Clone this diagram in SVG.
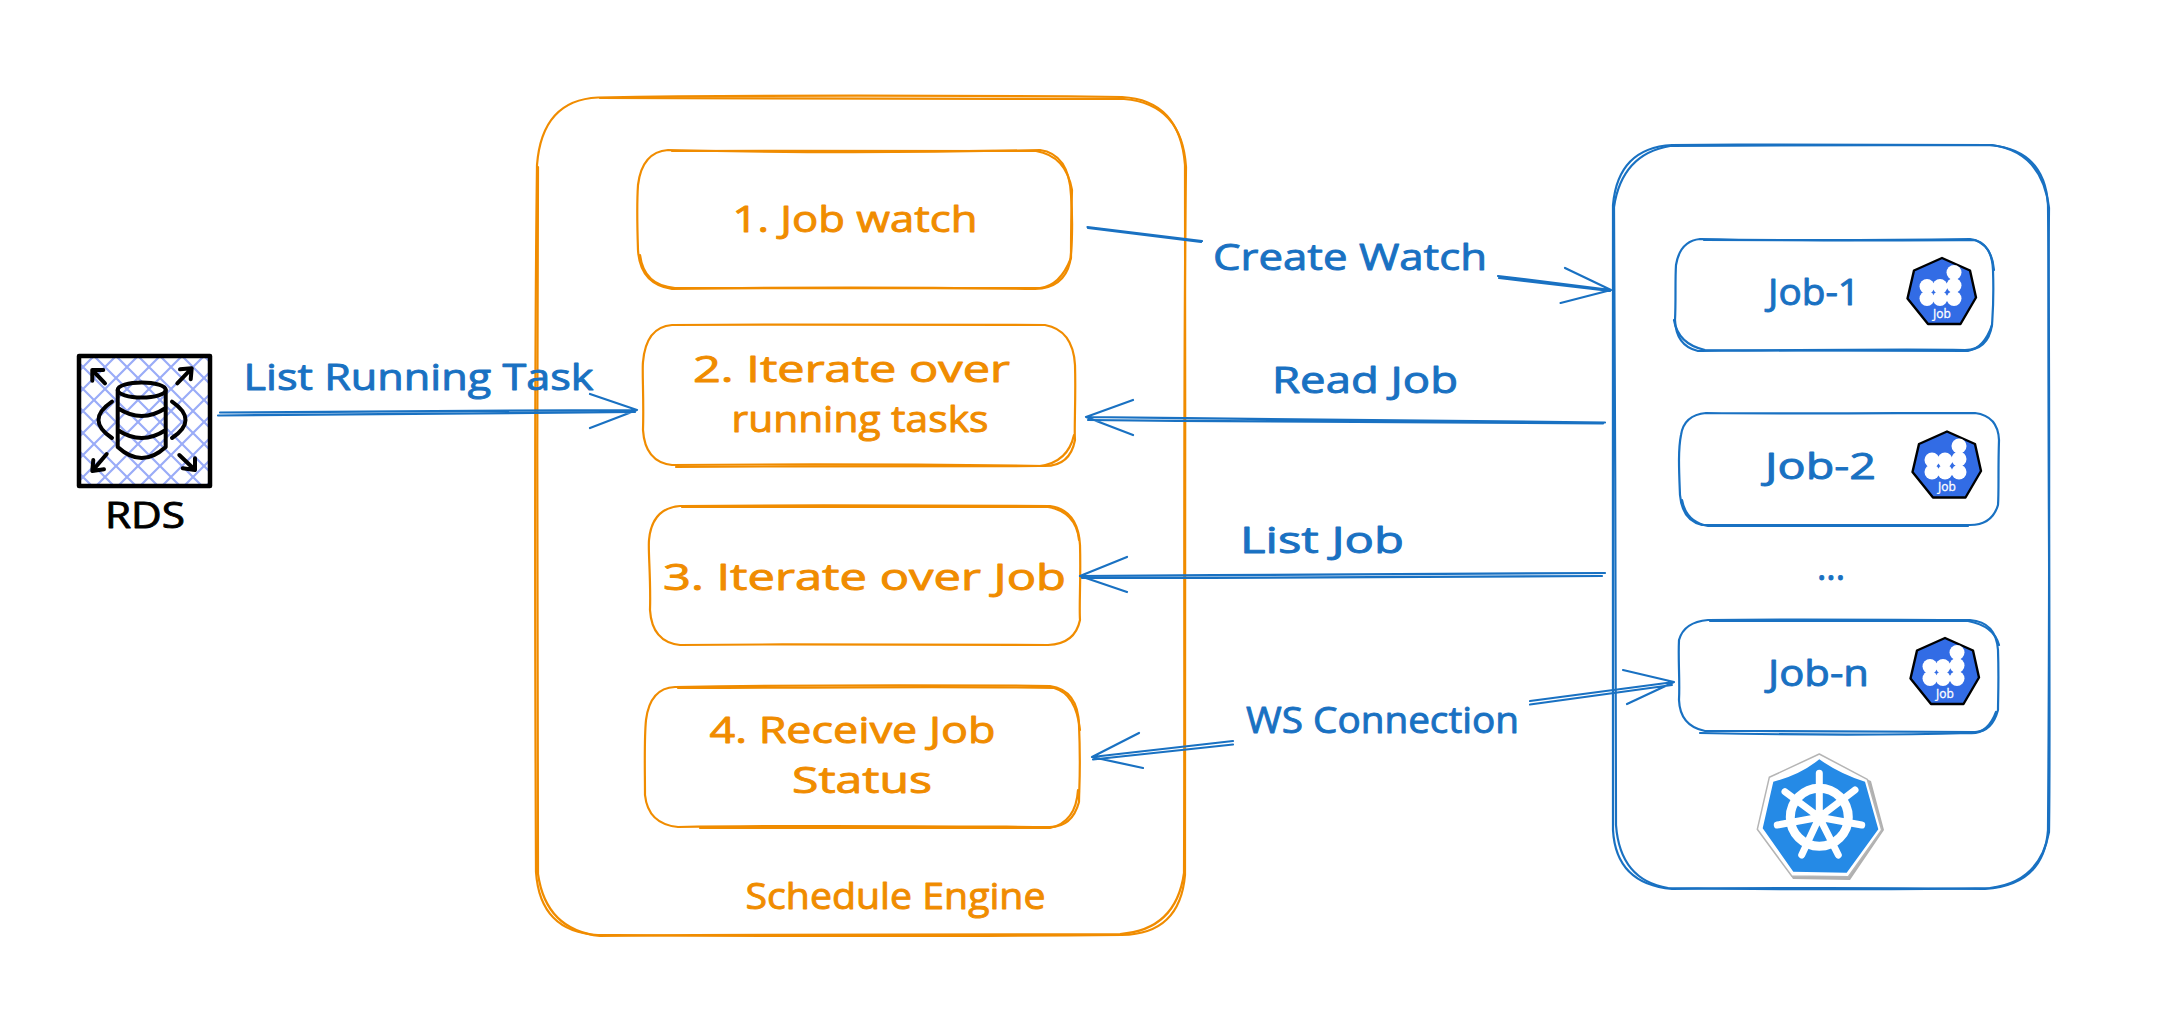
<svg xmlns="http://www.w3.org/2000/svg" width="2166" height="1030" viewBox="0 0 2166 1030">
<style>
.o{fill:none;stroke:#f08c00;stroke-width:2.2;stroke-linecap:round;stroke-linejoin:round}
.b{fill:none;stroke:#1971c2;stroke-width:2.2;stroke-linecap:round;stroke-linejoin:round}
.k{fill:none;stroke:#000;stroke-width:4;stroke-linecap:round;stroke-linejoin:round}
text{font-family:"Open Sans","Noto Sans",sans-serif;font-size:36px;stroke-width:.9px;stroke-linejoin:round}
.to{fill:#f08c00;stroke:#f08c00}
.tb{fill:#1971c2;stroke:#1971c2}
.tk{fill:#000;stroke:#000}
.hex{fill:#326ce5;stroke:#000;stroke-width:2.4;stroke-linejoin:round}
.blob{fill:#fff}
.tj{font-size:12px;fill:#fff;stroke:#fff;stroke-width:.3px;text-anchor:middle}
.sp{fill:none;stroke:#fff;stroke-width:7;stroke-linecap:round}
</style>
<defs>
<pattern id="hatch" patternUnits="userSpaceOnUse" width="22" height="22" x="6" y="4">
<path d="M0 0L22 22M22 0L0 22" stroke="#9aacf8" stroke-width="2.2" fill="none"/>
</pattern>
<g id="jobicon">
<polygon class="hex" points="0,-33.5 28,-21 34,6 18.500,32.500 -14,32.500 -34.500,7 -28,-21"/>
<g class="blob">
<circle cx="12" cy="-19" r="7.500"/><circle cx="12" cy="-6" r="7.500"/>
<circle cx="-15" cy="-5" r="7.500"/><circle cx="-2" cy="-5" r="7.500"/>
<circle cx="-15" cy="7" r="7.500"/><circle cx="-2" cy="7" r="7.500"/><circle cx="12" cy="7" r="7.500"/>
</g>
<text class="tj" x="0" y="26">Job</text>
</g>
</defs>
<rect width="2166" height="1030" fill="#fff"/>

<g id="schedule-engine">
<path class="o" d="M598 97.500C760 95 1010 96 1122 97Q1180 100 1185 165C1186 400 1184 700 1185 875Q1180 934 1122 935C900 937 760 936 598 935Q540 932 536 872C535 650 534 400 537 165Q542 100 598 97.500Z"/>
<path class="o" d="M600 98C800 100 1000 99 1124 99Q1182 104 1186 167C1183 400 1185 650 1184 873Q1176 930 1120 934C900 934 760 934 600 936Q546 930 538 874C537 650 537 400 538 167"/>
<text class="to" x="745.500" y="909" textLength="300" lengthAdjust="spacingAndGlyphs">Schedule Engine</text>
</g>
<g id="job-watch">
<path class="o" d="M668 150C800 153 950 152 1040 150Q1069 154 1071 195C1073 220 1072 250 1070 262Q1064 288 1035 289C900 287 800 287 672 289Q640 284 638 250C637 220 637 200 638 185Q642 152 668 150Z"/>
<path class="o" d="M672 151C800 151 950 150 1036 151Q1066 156 1072 190C1071 220 1071 245 1071 258Q1060 286 1040 288C900 289 800 288 675 288Q644 286 640 255"/>
<text class="to" x="732.500" y="232" textLength="245" lengthAdjust="spacingAndGlyphs">1. Job watch</text>
</g>
<g id="iterate-tasks">
<path class="o" d="M672 325C800 324 950 325 1045 325Q1073 330 1075 365C1076 400 1074 430 1075 440Q1070 466 1045 466C900 464 800 464 672 465Q645 462 643 430C644 400 642 370 643 362Q646 327 672 325Z"/>
<path class="o" d="M676 467C800 466 950 466 1040 466Q1068 462 1074 435"/>
<text class="to" x="693" y="382" textLength="317" lengthAdjust="spacingAndGlyphs">2. Iterate over</text>
<text class="to" x="731.500" y="432" textLength="257" lengthAdjust="spacingAndGlyphs">running tasks</text>
</g>
<g id="iterate-job">
<path class="o" d="M680 506C800 505 950 505 1050 506Q1078 510 1080 545C1081 580 1079 605 1080 620Q1075 644 1048 645C900 644 800 644 680 645Q652 642 650 610C651 580 648 550 649 540Q652 508 680 506Z"/>
<path class="o" d="M682 507C800 507 950 507 1048 507Q1076 512 1079 540"/>
<text class="to" x="663" y="590" textLength="403" lengthAdjust="spacingAndGlyphs">3. Iterate over Job</text>
</g>
<g id="receive-status">
<path class="o" d="M675 687C800 685 950 685 1050 686Q1078 690 1079 725C1081 770 1079 790 1079 802Q1072 828 1048 827C900 826 800 825 678 827Q648 824 645 795C645 770 644 740 646 720Q650 688 675 687Z"/>
<path class="o" d="M678 688C800 688 950 686 1054 688Q1076 694 1080 730M1078 790Q1076 822 1050 828C900 827 800 827 700 828"/>
<text class="to" x="709.500" y="743" textLength="286" lengthAdjust="spacingAndGlyphs">4. Receive Job</text>
<text class="to" x="792" y="793" textLength="140" lengthAdjust="spacingAndGlyphs">Status</text>
</g>

<g id="kubernetes-cluster">
<path class="b" d="M1672 145C1800 144 1950 144 1990 145Q2045 150 2048 205C2050 400 2049 700 2048 830Q2044 885 1985 889C1900 888 1750 888 1672 889Q1616 884 1613 830C1614 650 1612 400 1613 205Q1618 148 1672 145Z"/>
<path class="b" d="M1670 146C1800 145 1950 145 1992 145Q2042 152 2049 208C2047 400 2051 700 2049 832Q2040 882 1990 888C1900 890 1750 889 1668 888Q1620 880 1616 825C1616 650 1615 400 1614 207Q1622 154 1670 146Z"/>
<text class="tb" x="1817" y="580" textLength="28" lengthAdjust="spacingAndGlyphs">...</text>
</g>
<g id="job-1">
<path class="b" d="M1700 239C1800 241 1900 240 1970 239Q1992 242 1993 270C1994 300 1993 310 1992 325Q1988 350 1965 350C1900 349 1800 350 1698 351Q1676 346 1675 320C1676 300 1675 280 1676 265Q1680 241 1700 239Z"/>
<path class="b" d="M1704 240C1800 240 1900 241 1975 240Q1992 246 1994 270M1992 325Q1984 348 1968 351C1900 350 1800 351 1705 350Q1678 344 1674 320"/>
<text class="tb" x="1768" y="305" textLength="92" lengthAdjust="spacingAndGlyphs">Job-1</text>
<use href="#jobicon" x="1942" y="291.500"/>
</g>
<g id="job-2">
<path class="b" d="M1706 413C1800 414 1900 413 1975 413Q1998 416 1999 440C1998 470 1999 490 1998 505Q1992 525 1970 525C1900 525 1800 525 1702 525Q1682 520 1680 495C1679 470 1678 450 1681 435Q1684 415 1706 413Z"/>
<path class="b" d="M1682 500Q1686 522 1708 526C1800 526 1900 526 1968 526"/>
<text class="tb" x="1765" y="479" textLength="111" lengthAdjust="spacingAndGlyphs">Job-2</text>
<use href="#jobicon" x="1947" y="465"/>
</g>
<g id="job-n">
<path class="b" d="M1708 620C1800 619 1900 620 1970 620Q1996 622 1998 650C1999 680 1998 700 1998 710Q1992 732 1975 732C1900 731 1800 731 1705 731Q1680 726 1679 700C1680 680 1678 660 1679 640Q1684 622 1708 620Z"/>
<path class="b" d="M1710 621C1800 621 1900 621 1968 621Q1994 626 1999 645M1996 712Q1988 734 1970 733C1900 735 1800 735 1700 733"/>
<text class="tb" x="1768" y="686" textLength="101" lengthAdjust="spacingAndGlyphs">Job-n</text>
<use href="#jobicon" x="1945" y="671.500"/>
</g>
<g id="kubernetes-icon">
<polygon points="1866,779 1871,781 1884,830 1850,880 1793,879 1791,876 1848,877 1882,830" fill="#b0b0b0"/>
<polygon points="1819.300,754 1867.300,779.300 1881.700,830 1848.300,876.700 1791.700,876 1757.300,829.300 1769.300,777.300" fill="#fff" stroke="#b5b5b5" stroke-width="1.500" stroke-linejoin="round"/>
<path d="M1819.300 759.300Q1840 774 1865 781.700L1878.300 829.300L1846.700 872.700L1793.300 871.700L1762.700 828.300L1773.300 781.700Q1800 775 1819.300 759.300Z" fill="#258ae6"/>
<circle cx="1819.300" cy="817.300" r="29" fill="none" stroke="#fff" stroke-width="9"/>
<path class="sp" d="M1819.300 817.300V773.300M1819.300 817.300L1855 790M1819.300 817.300L1861.700 825M1819.300 817.300L1838.300 855M1819.300 817.300L1801.700 855M1819.300 817.300L1777.300 825M1819.300 817.300L1785 791.700"/>
</g>
<g id="rds">
<rect x="79" y="356" width="131" height="130" fill="url(#hatch)" stroke="#000" stroke-width="4.500" stroke-linejoin="round"/>
<ellipse class="k" cx="141.700" cy="390" rx="24" ry="7.500"/>
<path class="k" d="M117.700 390V447Q141.700 469 165.700 447V390M117.700 408Q141.700 424 165.700 408M117.700 430Q141.700 446 165.700 430M112 401.700Q85 420 112 438M172 401.700Q199 420 172 438"/>
<path class="k" d="M105 383.300L92.300 370M92.300 380.700V370H103.300M177.300 383.300L191.700 368.300M180 369.300L191.700 368.300L190.700 379.300M106.700 454L92.300 471M93.300 460L92.300 471L104 469.300M179.300 455L195 470M195 458.300V470L182.700 468.300"/>
<text class="tk" x="105" y="528" textLength="80" lengthAdjust="spacingAndGlyphs">RDS</text>
</g>

<g id="connectors">
<path class="b" d="M220 412.500C350 411 500 411 637 410M218 415.500C350 414.500 500 413 635 412M590 394L637 410L590 428"/>
<text class="tb" x="243.500" y="390" textLength="350" lengthAdjust="spacingAndGlyphs">List Running Task</text>
<path class="b" d="M1087.500 227L1202 241M1088 228L1201 242M1498 276L1611 290M1499 278L1610 291M1565 268L1611 290L1560.600 303"/>
<text class="tb" x="1213" y="270" textLength="274" lengthAdjust="spacingAndGlyphs">Create Watch</text>
<path class="b" d="M1605 422.500C1400 421 1250 419 1086 417M1603 423.500C1400 422.500 1250 421.500 1088 420M1133 400L1086 417L1133 435"/>
<text class="tb" x="1272" y="393" textLength="186" lengthAdjust="spacingAndGlyphs">Read Job</text>
<path class="b" d="M1605 573C1400 574 1250 575 1080 576M1602 576C1400 577 1250 578 1082 578M1127 557L1080 576L1127 592"/>
<text class="tb" x="1240" y="553" textLength="164" lengthAdjust="spacingAndGlyphs">List Job</text>
<path class="b" d="M1233 741L1092 757M1233 744.500L1093 759.500M1139 733L1092 757L1143 768"/>
<path class="b" d="M1530 701L1674 682M1530 704.500L1672 685M1623 670L1674 682L1627 704"/>
<text class="tb" x="1246" y="733" textLength="273" lengthAdjust="spacingAndGlyphs">WS Connection</text>
</g>
</svg>
